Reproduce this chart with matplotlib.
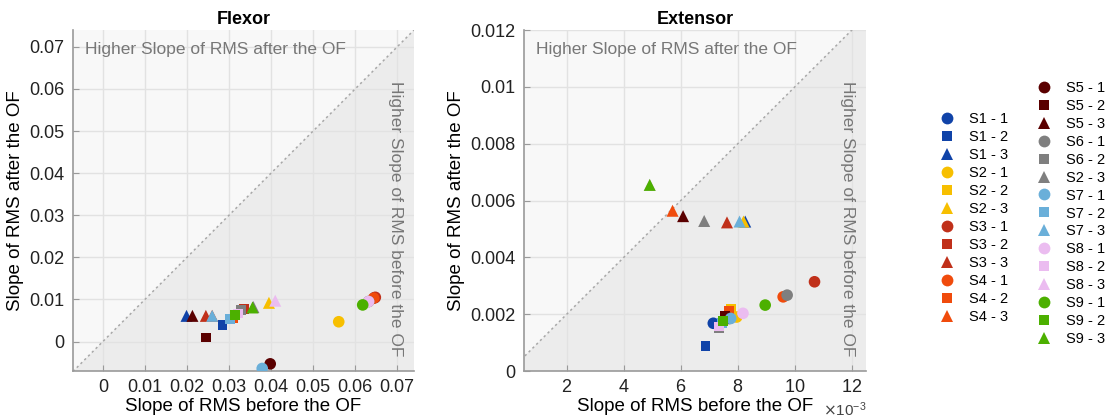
import matplotlib
matplotlib.use('Agg')
import matplotlib.pyplot as plt
from matplotlib.lines import Line2D
from matplotlib.ticker import FuncFormatter, ScalarFormatter

# Subjects S1..S9, trials 1..3 (circle, square, triangle)
subjects = ['S1', 'S2', 'S3', 'S4', 'S5', 'S6', 'S7', 'S8', 'S9']
colors = ['#1043a8', '#f7bf00', '#c0301a', '#f04b0c', '#5a0000',
          '#7f7f7f', '#6aafd9', '#ebbcf0', '#4cb000']
markers = ['o', 's', '^']
sizes = [70, 48, 75]

# Flexor: slope before / after the OF, one row per subject, columns = trials 1..3
flex_before = [
    [0.0646, 0.0285, 0.0199],
    [0.0561, 0.0314, 0.0395],
    [0.0648, 0.0335, 0.0245],
    [0.0644, 0.0310, 0.0260],
    [0.0398, 0.0245, 0.0213],
    [0.0632, 0.0329, 0.0358],
    [0.0379, 0.0302, 0.0260],
    [0.0632, 0.0322, 0.0410],
    [0.0618, 0.0314, 0.0356],
]
flex_after = [
    [0.0104, 0.0039, 0.0061],
    [0.0047, 0.0063, 0.0092],
    [0.0105, 0.0078, 0.0061],
    [0.0103, 0.0055, 0.0061],
    [-0.0053, 0.0010, 0.0061],
    [0.0095, 0.0075, 0.0082],
    [-0.0064, 0.0053, 0.0061],
    [0.0095, 0.0067, 0.0097],
    [0.0087, 0.0063, 0.0081],
]

# Extensor
ext_before = [
    [0.00714, 0.00687, 0.00826],
    [0.00796, 0.00776, 0.00820],
    [0.01069, 0.00768, 0.00762],
    [0.00959, 0.00770, 0.00571],
    [0.00770, 0.00755, 0.00608],
    [0.00973, 0.00735, 0.00682],
    [0.00775, 0.00745, 0.00806],
    [0.00818, 0.00735, 0.00491],
    [0.00896, 0.00747, 0.00491],
]
ext_after = [
    [0.00168, 0.00089, 0.00526],
    [0.00190, 0.00220, 0.00526],
    [0.00314, 0.00208, 0.00523],
    [0.00261, 0.00211, 0.00564],
    [0.00185, 0.00195, 0.00545],
    [0.00267, 0.00150, 0.00528],
    [0.00185, 0.00170, 0.00526],
    [0.00203, 0.00156, 0.00655],
    [0.00232, 0.00176, 0.00655],
]

# legend labels (as in original figure)
legend_labels = [f'{s} - {t}' for s in subjects for t in (1, 2, 3)]
legend_labels[17] = 'S2 - 3'

plt.rcParams['font.family'] = ['Liberation Sans', 'DejaVu Sans']
fig = plt.figure(figsize=(11.18, 4.17), dpi=100)

ax1 = fig.add_axes([0.0653, 0.1103, 0.305, 0.8177])
ax2 = fig.add_axes([0.4687, 0.1103, 0.306, 0.8177])

txt_grey = '#777777'


def draw_panel(ax, before, after, xlim, ylim, title):
    ax.set_facecolor('#f8f8f8')
    lo, hi = min(xlim[0], ylim[0]), max(xlim[1], ylim[1])
    ax.fill_between([lo, hi], [lo, hi], lo - 1, color='#ececec', zorder=0, lw=0)
    ax.plot([lo, hi], [lo, hi], color='#a8a8a8', ls=(0, (1.5, 2)), lw=1.1, zorder=1)
    for i in range(len(subjects)):
        for j in range(3):
            ax.scatter(before[i][j], after[i][j], s=sizes[j], marker=markers[j],
                       color=colors[i], edgecolors='none', zorder=3)
    ax.set_xlim(xlim)
    ax.set_ylim(ylim)
    ax.set_axisbelow(True)
    ax.grid(True, color='#e2e2e2', lw=1)
    for side in ('top', 'right'):
        ax.spines[side].set_visible(False)
    for side in ('left', 'bottom'):
        ax.spines[side].set_color('#9a9a9a')
        ax.spines[side].set_linewidth(1.2)
    ax.tick_params(direction='in', length=4, color='#9a9a9a', labelsize=13,
                   labelcolor='#222222', pad=6)
    ax.set_title(title, fontsize=13, fontweight='bold', pad=4)
    ax.set_xlabel('Slope of RMS before the OF', fontsize=13.5, labelpad=1)
    ax.set_ylabel('Slope of RMS after the OF', fontsize=13.5, labelpad=4)
    ax.text(0.034, 0.944, 'Higher Slope of RMS after the OF', transform=ax.transAxes,
            fontsize=12.5, color=txt_grey, ha='left', va='center')
    ax.text(0.946, 0.447, 'Higher Slope of RMS before the OF', transform=ax.transAxes,
            fontsize=12.5, color=txt_grey, ha='center', va='center', rotation=-90)


draw_panel(ax1, flex_before, flex_after, (-0.0071, 0.074), (-0.0070, 0.074), 'Flexor')
ax1.set_xticks([0, 0.01, 0.02, 0.03, 0.04, 0.05, 0.06, 0.07])
ax1.set_yticks([0, 0.01, 0.02, 0.03, 0.04, 0.05, 0.06, 0.07])
fmt = FuncFormatter(lambda v, p: f'{v:g}')
ax1.xaxis.set_major_formatter(fmt)
ax1.yaxis.set_major_formatter(fmt)

draw_panel(ax2, ext_before, ext_after, (0.0005, 0.0125), (0, 0.012), 'Extensor')
ax2.set_xticks([0.002, 0.004, 0.006, 0.008, 0.010, 0.012])
ax2.set_yticks([0, 0.002, 0.004, 0.006, 0.008, 0.010, 0.012])
ax2.yaxis.set_major_formatter(fmt)
sf = ScalarFormatter(useMathText=True)
sf.set_powerlimits((-3, -3))
ax2.xaxis.set_major_formatter(sf)
ax2.xaxis.get_offset_text().set_fontsize(11)
ax2.xaxis.get_offset_text().set_color('#444444')

# legend: two columns, each centred vertically
handles = []
for i in range(len(subjects)):
    for j in range(3):
        handles.append(Line2D([], [], ls='none', marker=markers[j], color=colors[i],
                              markersize=[8.5, 7, 9][j], markeredgewidth=0))

leg_kw = dict(frameon=False, fontsize=10.5, labelspacing=0.27, handletextpad=0.9,
              handlelength=1.2, borderaxespad=0)
fig.legend(handles[:12], legend_labels[:12], loc='center left',
           bbox_to_anchor=(0.834, 0.477), **leg_kw)
fig.legend(handles[12:], legend_labels[12:], loc='center left',
           bbox_to_anchor=(0.921, 0.488), **leg_kw)

fig.savefig('out.png', dpi=100)
